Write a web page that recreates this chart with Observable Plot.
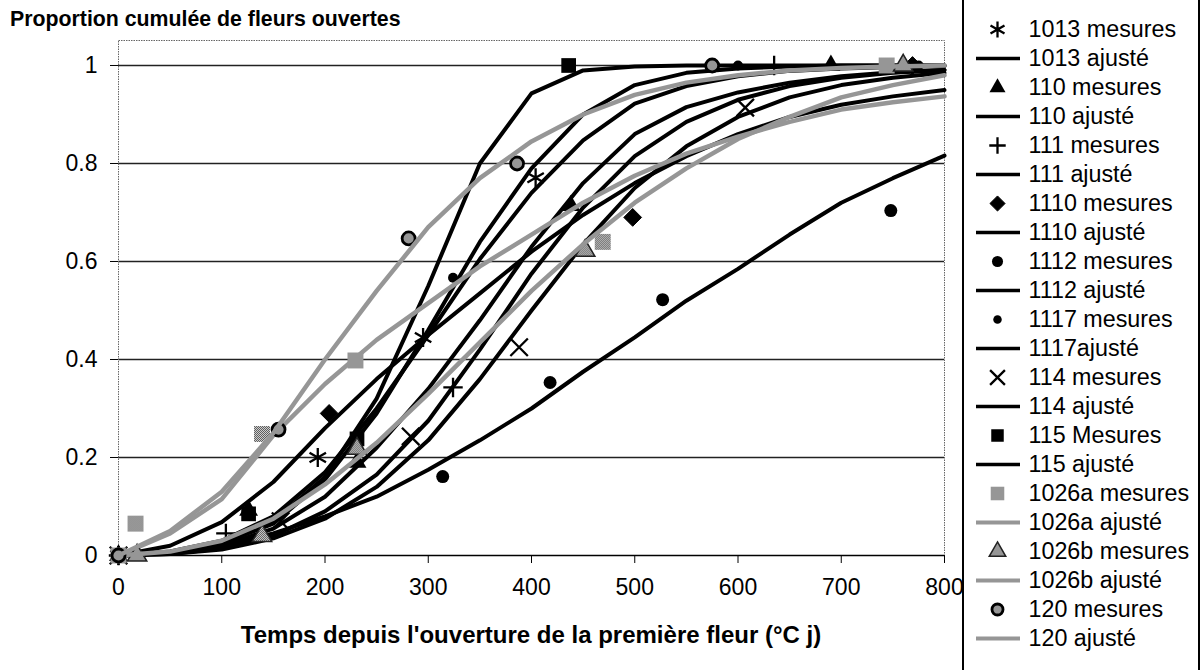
<!DOCTYPE html>
<html><head><meta charset="utf-8">
<script src="https://cdn.jsdelivr.net/npm/d3@7"></script>
<script src="https://cdn.jsdelivr.net/npm/@observablehq/plot@0.6"></script>
<style>
body{margin:0;background:#fff;}
#wrap{position:relative;width:1204px;height:670px;overflow:hidden;font-family:"Liberation Sans",Arial,sans-serif;color:#000;}
#title{position:absolute;left:10px;top:7px;font-weight:bold;font-size:21.3px;white-space:nowrap;}
#xlabel{position:absolute;left:118px;width:826px;top:621px;text-align:center;font-weight:bold;font-size:24px;white-space:nowrap;}
#chart{position:absolute;left:0;top:0;}
#legbox{position:absolute;left:962px;top:-5px;width:234px;height:690px;border-left:2px solid #000;border-right:2px solid #000;}
#legend{position:absolute;left:962px;top:0;}
</style></head>
<body><div id="wrap">
<div id="chart"></div>
<div id="legbox"></div>
<div id="legend"></div>
<div id="title">Proportion cumulée de fleurs ouvertes</div>
<div id="xlabel">Temps depuis l'ouverture de la première fleur (°C j)</div>
</div>
<script>
// ---------- data ----------
const xTicks = [0,100,200,300,400,500,600,700,800];
const yTicks = [0,0.2,0.4,0.6,0.8,1];
const yTickLabels = ["0","0.2","0.4","0.6","0.8","1"];

const fitX = [0,50,100,150,200,250,300,350,400,450,500,550,600,650,700,750,800];
const fit1013 = [0,0.005,0.025,0.065,0.155,0.29,0.46,0.64,0.79,0.9,0.96,0.985,0.994,0.998,1,1,1];
const fit110  = [0,0.005,0.02,0.055,0.12,0.22,0.34,0.48,0.63,0.76,0.86,0.915,0.945,0.965,0.978,0.986,0.991];
const fit111  = [0,0.003,0.015,0.04,0.09,0.165,0.275,0.42,0.575,0.71,0.815,0.885,0.93,0.958,0.975,0.985,0.991];
const fit1110 = [0,0.02,0.068,0.15,0.26,0.36,0.45,0.535,0.62,0.695,0.76,0.815,0.86,0.895,0.92,0.937,0.95];
const fit1112 = [0,0.005,0.02,0.045,0.08,0.12,0.175,0.235,0.3,0.375,0.445,0.52,0.585,0.655,0.72,0.77,0.816];
const fit1117 = [0,0.008,0.03,0.08,0.17,0.3,0.45,0.605,0.74,0.847,0.922,0.958,0.978,0.989,0.994,0.997,0.999];
const fit114  = [0,0.003,0.012,0.035,0.075,0.14,0.235,0.36,0.5,0.635,0.75,0.835,0.895,0.935,0.96,0.975,0.985];
const fit115  = [0,0.005,0.025,0.07,0.16,0.32,0.55,0.8,0.943,0.99,0.998,1,1,1,1,1,1];
const fit1026a = [0,0.045,0.115,0.245,0.35,0.44,0.515,0.59,0.655,0.72,0.775,0.82,0.855,0.885,0.91,0.925,0.937];
const fit1026b = [0,0.008,0.03,0.075,0.145,0.23,0.33,0.435,0.54,0.635,0.72,0.79,0.85,0.895,0.935,0.96,0.98];
const fit120  = [0,0.05,0.13,0.25,0.4,0.54,0.67,0.77,0.845,0.9,0.94,0.965,0.98,0.99,0.995,0.998,1];

const m1013X = [0,193,295,404];          const m1013Y = [0,0.2,0.445,0.771];
const m110X  = [0,126,231,438,690];      const m110Y  = [0,0.092,0.19,0.714,1];
const m111X  = [0,104,324,635];          const m111Y  = [0,0.045,0.343,1];
const m1110X = [0,204,498,769];          const m1110Y = [0,0.29,0.69,1];
const m1112X = [0,314,418,527,748];      const m1112Y = [0,0.161,0.353,0.522,0.704];
const m1117X = [0,324,600,775];          const m1117Y = [0,0.567,1,1];
const m114X  = [0,157,283,388,607];      const m114Y  = [0,0.07,0.243,0.425,0.914];
const m115X  = [0,126,231,436];          const m115Y  = [0,0.085,0.238,1];
const m1026aX = [0,16.5,139,229.5,469,744]; const m1026aY = [0,0.065,0.248,0.398,0.64,1];
const m1026bX = [18,139,231,452,760];    const m1026bY = [0,0.04,0.218,0.622,1];
const m120X  = [0,155,281,386,575];      const m120Y  = [0,0.257,0.647,0.8,1];

const seriesNames = ["1013","110","111","1110","1112","1117","114","115","1026a","1026b","120"];
const legendLabels = ["1013 mesures","1013 ajusté","110 mesures","110 ajusté","111 mesures","111 ajusté",
  "1110 mesures","1110 ajusté","1112 mesures","1112 ajusté","1117 mesures","1117ajusté",
  "114 mesures","114 ajusté","115 Mesures","115 ajusté","1026a mesures","1026a ajusté",
  "1026b mesures","1026b ajusté","120 mesures","120 ajusté"];

// ---------- styles ----------
const STIP = "url(#stip)";
const styles = {
  "1013": {symbol:"asterisk", r:9, fill:"none", stroke:"#000", sw:2.3, gray:false},
  "110":  {symbol:"triangle", r:7, fill:"#000", stroke:"none", sw:0, gray:false},
  "111":  {symbol:"plus", r:6.3, fill:"none", stroke:"#000", sw:2.3, gray:false},
  "1110": {symbol:"diamond2", r:8, fill:"#000", stroke:"#000", sw:1, gray:false},
  "1112": {symbol:"circle", r:6.5, fill:"#000", stroke:"none", sw:0, gray:false},
  "1117": {symbol:"circle", r:5, fill:"#000", stroke:"none", sw:0, gray:false},
  "114":  {symbol:"times", r:8, fill:"none", stroke:"#000", sw:2.3, gray:false},
  "115":  {symbol:"square", r:8.3, fill:"#000", stroke:"none", sw:0, gray:false},
  "1026a":{symbol:"square", r:9, fill:STIP, stroke:"none", sw:0, gray:true},
  "1026b":{symbol:"triangle", r:7.2, fill:STIP, stroke:"#222", sw:1.5, gray:true},
  "120":  {symbol:"circle", r:6.5, fill:STIP, stroke:"#000", sw:2.8, gray:true}
};
const fits = {"1013":fit1013,"110":fit110,"111":fit111,"1110":fit1110,"1112":fit1112,"1117":fit1117,
  "114":fit114,"115":fit115,"1026a":fit1026a,"1026b":fit1026b,"120":fit120};
const meas = {"1013":[m1013X,m1013Y],"110":[m110X,m110Y],"111":[m111X,m111Y],"1110":[m1110X,m1110Y],
  "1112":[m1112X,m1112Y],"1117":[m1117X,m1117Y],"114":[m114X,m114Y],"115":[m115X,m115Y],
  "1026a":[m1026aX,m1026aY],"1026b":[m1026bX,m1026bY],"120":[m120X,m120Y]};

const seriesMarks = [];
for (const s of seriesNames) {
  const st = styles[s];
  const [mx, my] = meas[s];
  const mData = mx.map((x,i)=>({x, y:my[i]}));
  const fData = fitX.map((x,i)=>({x, y:fits[s][i]}));
  seriesMarks.push(Plot.dot(mData, {x:"x", y:"y", symbol:st.symbol, r:st.r, fill:st.fill, stroke:st.stroke, strokeWidth:st.sw}));
  seriesMarks.push(Plot.line(fData, {x:"x", y:"y", stroke: st.gray ? STIP : "#000", strokeWidth: st.gray ? 4.5 : 4, strokeLinejoin:"round"}));
}

const chart = Plot.plot({
  width: 985, height: 670,
  marginLeft: 118, marginRight: 41, marginTop: 40, marginBottom: 115,
  style: {fontFamily: "'Liberation Sans', Arial, sans-serif", fontSize: "23px", color: "#000", background: "transparent"},
  x: {domain: [0, 800]},
  y: {domain: [0, 1.051]},
  marks: [
    Plot.ruleY(yTicks.filter(d => d > 0), {stroke: "#222", strokeWidth: 1.3}),
    Plot.frame({stroke: "#666", strokeDasharray: "1.5,1"}),
    Plot.ruleY([0], {stroke: "#000", strokeWidth: 1.5}),
    Plot.axisX({ticks: xTicks, tickSize: 8, tickPadding: 15, label: null, fontSize: 23, stroke:"#000"}),
    Plot.axisY({ticks: yTicks, tickSize: 8, tickPadding: 13, label: null, fontSize: 23,
      tickFormat: d => yTickLabels[yTicks.indexOf(d)], stroke:"#000"}),
    ...seriesMarks
  ]
});
const defs = document.createElementNS("http://www.w3.org/2000/svg", "defs");
defs.innerHTML = '<pattern id="stip" width="2" height="2" patternUnits="userSpaceOnUse">' +
  '<rect width="2" height="2" fill="#d2d2d2"/><rect width="1" height="1" fill="#5a5a5a"/>' +
  '<rect x="1" y="1" width="1" height="1" fill="#5a5a5a"/></pattern>';
chart.insertBefore(defs, chart.firstChild);
document.getElementById("chart").appendChild(chart);

// ---------- legend ----------
const legRows = legendLabels.map((label, i) => {
  const s = seriesNames[Math.floor(i/2)];
  return {label, s, kind: i % 2 === 0 ? "m" : "f"};
});
const legMarks = [];
for (const s of seriesNames) {
  const st = styles[s];
  const mRow = legRows.filter(d => d.s === s && d.kind === "m");
  const fRow = legRows.filter(d => d.s === s && d.kind === "f");
  legMarks.push(Plot.dot(mRow, {x: () => 35, y: "label", symbol: st.symbol, r: st.r * 0.85, fill: st.fill, stroke: st.stroke, strokeWidth: st.sw}));
  legMarks.push(Plot.ruleY(fRow, {x1: () => 14, x2: () => 58, y: "label", stroke: st.gray ? STIP : "#000", strokeWidth: st.gray ? 4 : 3.5}));
}
legMarks.push(Plot.text(legRows, {x: () => 66, y: "label", text: "label", textAnchor: "start", fontSize: 23.3, fill: "#000"}));
const legend = Plot.plot({
  width: 242, height: 670, margin: 0,
  style: {fontFamily: "'Liberation Sans', Arial, sans-serif", background: "transparent", overflow: "visible"},
  x: {type: "linear", domain: [0, 242], range: [0, 242], axis: null},
  y: {type: "point", domain: legendLabels, range: [14, 652], axis: null},
  marks: legMarks
});
document.getElementById("legend").appendChild(legend);
</script>
</body></html>
